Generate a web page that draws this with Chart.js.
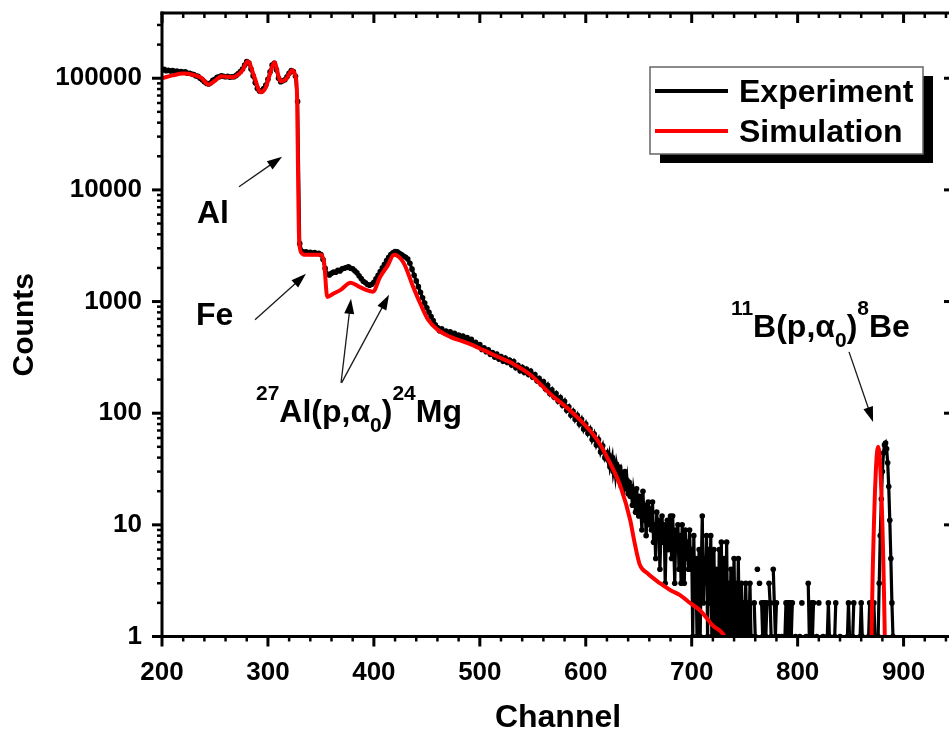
<!DOCTYPE html>
<html>
<head>
<meta charset="utf-8">
<script src="https://cdn.jsdelivr.net/npm/chart.js@4.4.1/dist/chart.umd.min.js"></script>
<style>
  html, body { margin: 0; padding: 0; background: #fff; overflow: hidden; }
  #wrap { width: 949px; height: 735px; overflow: hidden; }
</style>
</head>
<body>
<div id="wrap"><canvas id="spectrum" width="964" height="735"></canvas></div>
<script>
// experiment: regular channel grid, one array per region
var expPlateau = [ // 200..330 step 2
  118000, 120000, 117000, 118000, 116000, 117000, 115000, 116000, 114000, 115000,
  113000, 114000, 111000, 111000, 109000, 108000, 105000, 104000, 100000, 97000,
  93000, 90000, 89000, 91000, 96000, 98000, 102000, 103000, 105000, 104000,
  103000, 104000, 102000, 103000, 103000, 106000, 110000, 115000, 121000, 131000,
  141000, 137000, 121000, 105000, 91000, 81000, 77000, 77000, 81000, 87000,
  98000, 114000, 131000, 136000, 119000, 100000, 93000, 95000, 97000, 103000,
  111000, 117000, 115000, 104000, 62000, 3300
];
var expHumps = [ // 332..458 step 2
  2820, 2760, 2790, 2730, 2760, 2700, 2740, 2690, 2710, 2640,
  2380, 1980, 1760, 1730, 1790, 1840, 1830, 1900, 1880, 1960,
  1990, 2020, 2050, 1990, 1960, 1890, 1810, 1700, 1610, 1520,
  1470, 1420, 1400, 1430, 1490, 1600, 1720, 1860, 2010, 2160,
  2330, 2490, 2630, 2730, 2810, 2790, 2700, 2630, 2560, 2490,
  2400, 2200, 1950, 1720, 1530, 1360, 1210, 1080, 970, 880,
  800, 735, 675, 620
];
var expSlope = [ // 460..620 step 2
  585, 548, 570, 530, 545, 512, 535, 505, 520, 488,
  500, 470, 492, 458, 475, 440, 458, 418, 432, 400,
  412, 372, 385, 355, 370, 335, 350, 318, 338, 305,
  322, 292, 312, 285, 300, 270, 290, 255, 268, 240,
  258, 232, 248, 222, 238, 210, 222, 195, 205, 182,
  192, 165, 178, 150, 162, 140, 150, 128, 138, 118,
  128, 106, 114, 96, 104, 88, 96, 80, 88, 72,
  80, 66, 72, 58, 65, 52, 58, 45, 51, 40,
  44
];
var expTail = [ // 621..900 step 1, zero counts leave gaps on the log axis
  38, 42, 33, 36, 40, 30, 34, 28, 35, 31, 27, 33, 24, 29, 26, 22, 30, 21, 25, 19,
  24, 18, 22, 15, 20, 17, 13, 21, 16, 12, 18, 14, 9, 20, 11, 15, 8, 13, 16, 10,
  14, 9, 16, 7, 10, 5, 13, 8, 11, 4, 9, 12, 7, 10, 3, 8, 11, 6, 9, 12,
  5, 12, 7, 3, 9, 6, 10, 4, 8, 3, 10, 6, 3, 9, 5, 7, 4, 9, 4, 6,
  1, 8, 2, 5, 1, 3, 6, 1, 4, 12, 2, 5, 3, 8, 1, 6, 2, 8, 1, 4,
  6, 1, 4, 2, 1, 6, 1, 7, 1, 3, 5, 1, 7, 1, 3, 1, 4, 1, 2, 5,
  1, 3, 1, 5, 1, 2, 3, 1, 2, 1, 3, 1, 2, 1, 3, 1,
  1, 0, 2, 1, 0, 4, 0, 3, 0, 2,
  1, 2, 2, 1, 2, 0, 3, 2, 1, 0,
  4, 2, 1, 2, 0, 1, 0, 0, 1, 0,
  0, 1, 2, 2, 1, 2, 2, 1, 2, 0,
  0, 1, 0, 0, 0, 1, 0, 2, 0, 0,
  0, 1, 0, 3, 1, 0, 2, 1, 2, 0,
  0, 1, 0, 2, 0, 0, 0, 1, 0, 0,
  0, 1, 2, 1, 0, 0, 0, 0, 1, 2,
  0, 0, 0, 1, 0, 0, 0, 0, 0, 0,
  1, 2, 1, 0, 0, 1, 2, 0, 0, 0,
  0, 0, 1, 2, 1, 0, 0, 0, 0, 0,
  1, 2, 1, 0, 1, 2, 1, 0, 1, 1,
  3, 8, 17, 30, 44, 52, 54, 48, 36, 22,
  11, 5, 2, 1, 0, 0, 0, 0, 0, 0,
  0, 0, 0, 0
];

// simulation
var simChannels = [
  200, 210, 220, 230, 237, 244, 250, 256, 262, 267, 272, 276, 281, 287, 293, 298, 302, 306,
  312, 317, 323, 326, 327.5, 328.5, 329.5, 332, 334, 350, 353, 356, 362, 369, 378, 386,
  392, 399, 406, 413, 419, 428, 437, 444, 451, 460, 472, 488, 503, 517, 532, 548, 566,
  588, 611, 623, 633, 642, 646, 651, 658, 670, 680, 689, 699, 708, 720, 731, 736,
  800, 869, 870, 871, 872, 873, 874, 875, 876, 877, 878, 879, 880, 881, 882, 883
];
var simCounts = [
  100000, 106000, 110000, 107000, 101000, 88000, 95000, 104000, 103000, 102000, 108000, 118000, 142000, 104000, 75000, 83000, 110000, 139000,
  94000, 98000, 118000, 104000, 70000, 12000, 3400, 2700, 2630, 2630, 2230, 1100, 1180, 1280, 1475, 1360,
  1280, 1225, 1670, 2100, 2630, 2230, 1360, 950, 690, 560, 483, 426, 369, 320, 275, 220, 150,
  100, 57.5, 35.7, 21.8, 11, 7, 4.4, 3.7, 3.0, 2.6, 2.35, 1.98, 1.71, 1.25, 1.0, 0.7,
  null, 0.4, 1.4, 4.3, 10, 20, 33, 45, 50, 45, 33, 20, 10, 4.3, 1.4, 0.4
];

var xTickLabels = ['200', '300', '400', '500', '600', '700', '800', '900'];
var yTickLabels = ['1', '10', '100', '1000', '10000', '100000'];
var xMin = 200, xMax = 947.6, yMin = 1, yMax = 384000;

var FONT = '"Liberation Sans", Arial, sans-serif';

function toPoints(start, step, values) {
  return values.map(function(v, i) { return { x: start + i * step, y: v }; });
}

var expPoints = [].concat(
  toPoints(200, 2, expPlateau),
  toPoints(332, 2, expHumps),
  toPoints(460, 2, expSlope),
  toPoints(621, 1, expTail)
);
var simPoints = simChannels.map(function(c, i) { return { x: c, y: simCounts[i] }; });

var xTickValues = [];
for (var v = 200; v <= 940; v += 20) xTickValues.push(v);
var yTickValues = [];
for (var d = 0; d <= 5; d++) {
  for (var k = 1; k <= 9; k++) {
    var tv = k * Math.pow(10, d);
    if (tv <= yMax) yTickValues.push(tv);
  }
}

// text annotations, anchored in data coordinates (left edge, baseline)
var annoLabels = [
  { ch: 233, counts: 5070, runs: [['Al', 'n']] },
  { ch: 232, counts: 618, runs: [['Fe', 'n']] },
  { ch: 288.7, counts: 83.6, runs: [['27', 'sup'], ['Al(p,', 'n'], ['\u03b1', 'n'], ['0', 'sub'], [')', 'n'], ['24', 'sup'], ['Mg', 'n']] },
  { ch: 737, counts: 483, runs: [['11', 'sup'], ['B(p,', 'n'], ['\u03b1', 'n'], ['0', 'sub'], [')', 'n'], ['8', 'sup'], ['Be', 'n']] }
];
var annoArrows = [
  [272.7, 10660, 313.3, 19800],
  [287.8, 686, 335.9, 1770],
  [369, 187, 378.4, 1057],
  [369.5, 187, 414.3, 1148],
  [848.5, 354, 871.2, 83.6]
];

function drawRuns(ctx, x, y, runs) {
  runs.forEach(function(r) {
    var small = r[1] !== 'n';
    ctx.font = 'bold ' + (small ? 21 : 32) + 'px ' + FONT;
    var dy = r[1] === 'sup' ? -22 : (r[1] === 'sub' ? 10 : 0);
    ctx.fillText(r[0], x, y + dy);
    x += ctx.measureText(r[0]).width;
  });
}

function drawArrow(ctx, x1, y1, x2, y2) {
  var a = Math.atan2(y2 - y1, x2 - x1);
  var L = 15, W = 5;
  var c = Math.cos(a), s = Math.sin(a);
  ctx.lineWidth = 1.3;
  ctx.beginPath();
  ctx.moveTo(x1, y1);
  ctx.lineTo(x2 - L * 0.8 * c, y2 - L * 0.8 * s);
  ctx.stroke();
  ctx.beginPath();
  ctx.moveTo(x2, y2);
  ctx.lineTo(x2 - L * c + W * s, y2 - L * s - W * c);
  ctx.lineTo(x2 - L * c - W * s, y2 - L * s + W * c);
  ctx.closePath();
  ctx.fill();
}

function line(ctx, x1, y1, x2, y2) {
  ctx.beginPath(); ctx.moveTo(x1, y1); ctx.lineTo(x2, y2); ctx.stroke();
}

var framePlugin = {
  id: 'frame',
  afterDatasetsDraw: function(chart) {
    var ctx = chart.ctx, a = chart.chartArea;
    var xs = chart.scales.x, ys = chart.scales.y;
    ctx.save();
    ctx.strokeStyle = '#000';
    ctx.lineWidth = 3;
    ctx.lineCap = 'square';
    line(ctx, a.left, a.top, a.right, a.top);
    line(ctx, a.left, a.top, a.left, a.bottom);
    line(ctx, a.left, a.bottom, a.right, a.bottom);
    line(ctx, a.right, a.top, a.right, a.bottom);
    ctx.lineCap = 'butt';
    xs.ticks.forEach(function(t) {
      var px = xs.getPixelForValue(t.value);
      var major = t.value % 100 === 0;
      var len = major ? 10 : 5;
      ctx.lineWidth = major ? 3 : 2.5;
      line(ctx, px, a.bottom, px, a.bottom + len);
      line(ctx, px, a.top, px, a.top + len);
    });
    ys.ticks.forEach(function(t) {
      var py = ys.getPixelForValue(t.value);
      var major = yTickLabels.indexOf(String(t.value)) >= 0;
      var len = major ? 10 : 5;
      ctx.lineWidth = major ? 3 : 2.5;
      line(ctx, a.left - len, py, a.left, py);
      line(ctx, a.right - len, py, a.right, py);
    });
    ctx.restore();
  },
  afterDraw: function(chart) {
    var ctx = chart.ctx;
    var xs = chart.scales.x, ys = chart.scales.y;
    ctx.save();
    ctx.fillStyle = '#000';
    ctx.strokeStyle = '#1a1a1a';
    ctx.textBaseline = 'alphabetic';
    ctx.textAlign = 'left';
    annoLabels.forEach(function(l) {
      drawRuns(ctx, xs.getPixelForValue(l.ch), ys.getPixelForValue(l.counts), l.runs);
    });
    annoArrows.forEach(function(r) {
      drawArrow(ctx, xs.getPixelForValue(r[0]), ys.getPixelForValue(r[1]),
                xs.getPixelForValue(r[2]), ys.getPixelForValue(r[3]));
    });

    // legend box with drop shadow
    ctx.fillStyle = '#000';
    ctx.fillRect(660, 76, 273, 87);
    ctx.fillStyle = '#fff';
    ctx.fillRect(650, 67, 273, 87);
    ctx.strokeStyle = '#666';
    ctx.lineWidth = 1.5;
    ctx.strokeRect(650, 67, 273, 87);
    ctx.lineWidth = 4;
    ctx.strokeStyle = '#000';
    line(ctx, 655, 91, 728, 91);
    ctx.strokeStyle = '#ff0000';
    line(ctx, 655, 131, 728, 131);
    ctx.fillStyle = '#000';
    ctx.font = 'bold 32px ' + FONT;
    ctx.fillText('Experiment', 739, 102);
    ctx.fillText('Simulation', 739, 142);
    ctx.restore();
  }
};

new Chart(document.getElementById('spectrum'), {
  type: 'line',
  data: {
    datasets: [
      {
        label: 'Simulation', data: simPoints, order: 0,
        borderColor: '#ff0000', borderWidth: 4, pointRadius: 0,
        cubicInterpolationMode: 'monotone', spanGaps: false
      },
      {
        label: 'Experiment', data: expPoints, order: 1,
        borderColor: '#000', backgroundColor: '#000', borderWidth: 3.2,
        pointRadius: 2.8, pointBorderWidth: 0, tension: 0, spanGaps: false
      }
    ]
  },
  options: {
    responsive: false,
    animation: false,
    events: [],
    layout: { padding: { top: 13, right: 10, left: 0, bottom: 0 } },
    plugins: { legend: { display: false }, tooltip: { enabled: false } },
    scales: {
      x: {
        type: 'linear', min: xMin, max: xMax, bounds: 'data',
        afterBuildTicks: function(s) { s.ticks = xTickValues.map(function(v) { return { value: v }; }); },
        afterFit: function(s) { s.height = 98.5; s.paddingLeft = 0; s.paddingRight = 0; s.paddingTop = 0; s.paddingBottom = 0; },
        grid: { drawOnChartArea: false, color: 'rgba(0,0,0,0)', tickLength: 10 },
        border: { display: false },
        ticks: {
          autoSkip: false, maxRotation: 0, padding: 11, color: '#000',
          font: { family: FONT, size: 26, weight: 'bold' },
          callback: function(value) {
            var s = String(value);
            return xTickLabels.indexOf(s) >= 0 ? s : '';
          }
        },
        title: {
          display: true, text: 'Channel', color: '#000',
          font: { family: FONT, size: 32, weight: 'bold', lineHeight: 1 },
          padding: { top: 0, bottom: 1 }
        }
      },
      y: {
        type: 'logarithmic', min: yMin, max: yMax, bounds: 'data',
        afterBuildTicks: function(s) { s.ticks = yTickValues.map(function(v) { return { value: v }; }); },
        afterFit: function(s) { s.width = 162; s.paddingTop = 0; s.paddingBottom = 0; s.paddingLeft = 0; s.paddingRight = 0; },
        grid: { drawOnChartArea: false, color: 'rgba(0,0,0,0)', tickLength: 10 },
        border: { display: false },
        ticks: {
          autoSkip: false, padding: 10, color: '#000',
          font: { family: FONT, size: 26, weight: 'bold' },
          callback: function(value) {
            var s = String(value);
            return yTickLabels.indexOf(s) >= 0 ? s : '';
          }
        },
        title: {
          display: true, text: 'Counts', color: '#000',
          font: { family: FONT, size: 30, weight: 'bold', lineHeight: 1 },
          padding: { top: 10, bottom: 0 }
        }
      }
    }
  },
  plugins: [framePlugin]
});
</script>
</body>
</html>
